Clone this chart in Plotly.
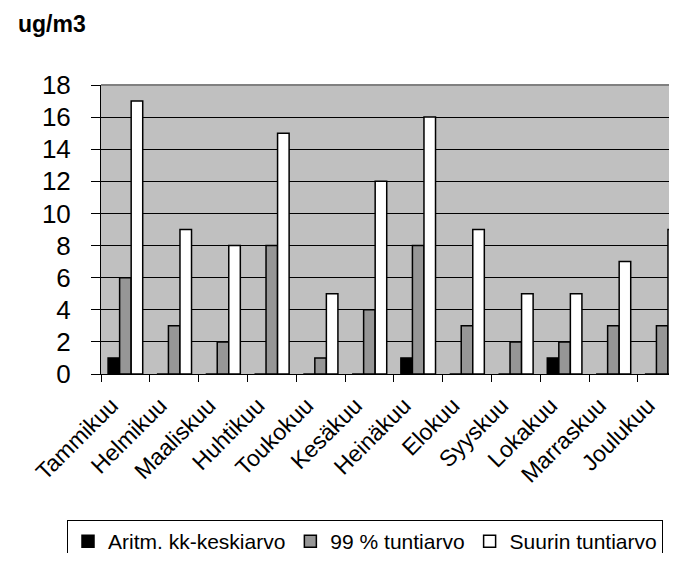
import plotly.graph_objects as go

# monthly values, ug/m3
months = ['Tammikuu', 'Helmikuu', 'Maaliskuu', 'Huhtikuu', 'Toukokuu', 'Kesäkuu',
          'Heinäkuu', 'Elokuu', 'Syyskuu', 'Lokakuu', 'Marraskuu', 'Joulukuu']
mean_vals = [1, 0, 0, 0, 0, 0, 1, 0, 0, 1, 0, 0]
p99_vals = [6, 3, 2, 8, 1, 4, 8, 3, 2, 2, 3, 3]
max_vals = [17, 9, 8, 15, 5, 12, 16, 9, 5, 5, 7, 9]

font = 'Arial, Liberation Sans, sans-serif'

# page body has an 8px margin, so the figure is made smaller and shifted
pad = 8
W, H = 677 - 2 * pad, 561 - 2 * pad
left, top, bottom = 101 - pad, 85 - pad, 374 - pad
plot_w = W - left
plot_h = bottom - top
cat_w = 48.8

fig = go.Figure()
fig.add_trace(go.Bar(name='Aritm. kk-keskiarvo', x=months, y=mean_vals,
                     marker=dict(color='#000000', line=dict(color='black', width=1.5))))
fig.add_trace(go.Bar(name='99 % tuntiarvo', x=months, y=p99_vals,
                     marker=dict(color='#969696', line=dict(color='black', width=1.5))))
fig.add_trace(go.Bar(name='Suurin tuntiarvo', x=months, y=max_vals,
                     marker=dict(color='#ffffff', line=dict(color='black', width=1.5))))

# grey frame line on top of the plot area
fig.add_shape(type='line', xref='paper', yref='paper', x0=0, x1=1, y0=1, y1=1,
              line=dict(color='#808080', width=2))

fig.update_layout(
    width=W, height=H,
    margin=dict(l=left, r=0, t=top, b=H - bottom, autoexpand=False),
    plot_bgcolor='#c0c0c0',
    paper_bgcolor='white',
    font=dict(family=font, color='black'),
    barmode='group',
    bargap=0.29,
    bargroupgap=0,
    title=dict(text='<b>ug/m3</b>', xref='container', yref='container',
               x=10 / W, xanchor='left', y=1 - 8 / H, yanchor='top',
               font=dict(size=23, family=font, color='black')),
    legend=dict(orientation='h', xanchor='left', yanchor='top',
                x=(67 - 101) / plot_w, y=(374 - 520) / plot_h,
                bordercolor='black', borderwidth=1, bgcolor='white',
                font=dict(size=21, family=font), traceorder='normal'),
)

fig.update_xaxes(type='category', range=[-0.5, -0.5 + plot_w / cat_w],
                 tickson='boundaries', ticks='outside', ticklen=7, tickcolor='black',
                 showline=True, linecolor='black', linewidth=1, showgrid=False,
                 tickangle=-45, tickfont=dict(size=23), ticklabelshift=-14,
                 ticklabelstandoff=8)
fig.update_yaxes(range=[0, 18], dtick=2, ticks='outside', ticklen=9, tickcolor='black',
                 showline=True, linecolor='black', linewidth=1,
                 showgrid=True, gridcolor='black', gridwidth=1, zeroline=False,
                 tickfont=dict(size=26), ticklabelstandoff=15)

fig.write_html('out.html')
